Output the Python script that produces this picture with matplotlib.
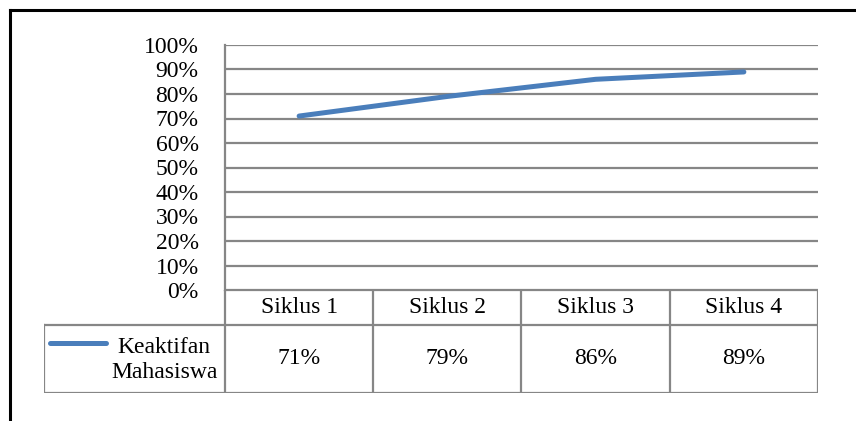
import matplotlib
matplotlib.use('Agg')
import matplotlib.pyplot as plt
from matplotlib.lines import Line2D

plt.rcParams['font.family'] = ['Liberation Serif', 'DejaVu Serif']

categories = ['Siklus 1', 'Siklus 2', 'Siklus 3', 'Siklus 4']
values = [71, 79, 86, 89]
series_name = 'Keaktifan\nMahasiswa'
yticks = list(range(0, 101, 10))

W, H = 856, 421
line_color = '#4A7EBB'
grid_color = '#868686'
fs = 17

fig = plt.figure(figsize=(W / 100, H / 100), dpi=100)

def px_axes(x0, y0, x1, y1):
    # pixel box (top-left origin) -> figure fraction
    return fig.add_axes([x0 / W, 1 - y1 / H, (x1 - x0) / W, (y1 - y0) / H])

# outer frame (top and left edges visible)
fig.add_artist(Line2D([10 / W, 10 / W], [0, 1 - 10 / H], color='black', lw=2.2))
fig.add_artist(Line2D([10 / W, 1], [1 - 10 / H, 1 - 10 / H], color='black', lw=2.2))

# plot area
ax = px_axes(225, 45, 818, 290)
x = [i + 0.5 for i in range(len(categories))]
ax.plot(x, values, color=line_color, lw=3.6, solid_capstyle='round', zorder=3)
ax.set_xlim(0, len(categories))
ax.set_ylim(0, 100)
ax.set_yticks(yticks)
ax.set_yticklabels([f'{v}%' for v in yticks], fontsize=fs)
ax.tick_params(axis='y', length=0, pad=19)
ax.set_xticks([])
for v in yticks:
    ax.axhline(v, color=grid_color, lw=1.6, zorder=1)
for s in ['top', 'right', 'bottom']:
    ax.spines[s].set_visible(False)
ax.spines['left'].set_color(grid_color)
ax.spines['left'].set_linewidth(1.6)
ax.patch.set_alpha(0)

# data table below
leg_w = (225 - 44) / ((818 - 225) / len(categories))
tx = px_axes(44, 290, 818, 393)
tx.set_xlim(-leg_w, len(categories))
tx.set_ylim(0, 103)
tx.axis('off')
row_split = 103 - 35
lk = dict(color=grid_color, lw=1.6, solid_capstyle='projecting')
for i in range(len(categories) + 1):
    tx.plot([i, i], [0, 103], **lk)
tx.plot([0, len(categories)], [103, 103], **lk)
tx.plot([-leg_w, len(categories)], [row_split, row_split], **lk)
tx.plot([-leg_w, len(categories)], [0, 0], **lk)
tx.plot([-leg_w, -leg_w], [0, row_split], **lk)
for i, (c, v) in enumerate(zip(categories, values)):
    tx.text(i + 0.5, (row_split + 103) / 2, c, ha='center', va='center', fontsize=fs)
    tx.text(i + 0.5, row_split / 2, f'{v}%', ha='center', va='center', fontsize=fs)
tx.plot([-leg_w + 0.04, -leg_w + 0.42], [50, 50], color=line_color, lw=3.6,
        solid_capstyle='round')
tx.text(-leg_w + 0.81, row_split / 2 - 1, series_name, ha='center', va='center',
        fontsize=fs, linespacing=1.3)

fig.savefig('out.png', dpi=100)
